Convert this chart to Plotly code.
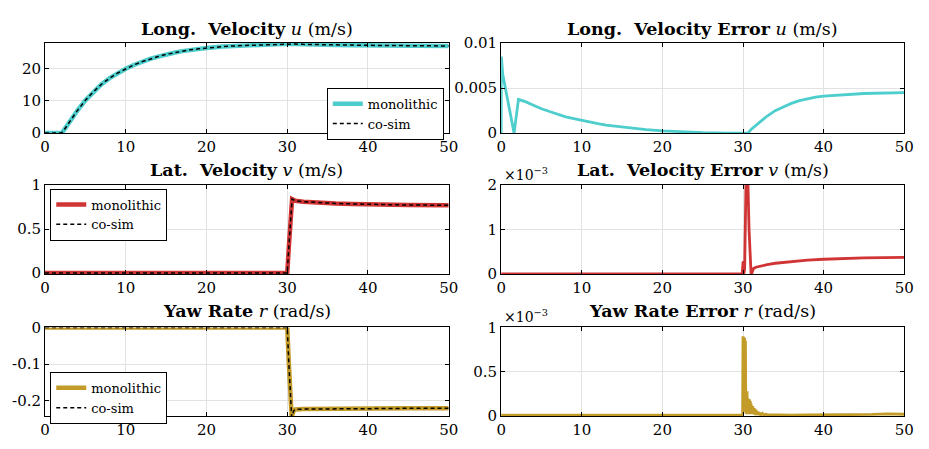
import plotly.graph_objects as go

# ---------------- data ----------------
t_u = [0, 1, 2, 2.2, 3, 4, 5, 6, 7, 8, 9, 10, 11, 12, 13, 14, 15, 16, 17, 18, 19, 20,
       22, 24, 26, 28, 30, 31, 32, 34, 36, 38, 40, 45, 50]
u_mono = [0, 0, 0, 0.4, 3.5, 7.0, 10.2, 12.9, 15.2, 17.1, 18.7, 20.0, 21.2, 22.2, 23.1,
          23.8, 24.5, 25.0, 25.5, 25.9, 26.2, 26.5, 26.9, 27.2, 27.4, 27.6, 27.8, 27.7,
          27.6, 27.5, 27.4, 27.35, 27.3, 27.2, 27.1]
u_cosim = list(u_mono)

t_v = [0, 10, 20, 29.9, 30.0, 30.2, 30.4, 30.6, 30.8, 31, 32, 33, 34, 36, 38, 40, 42, 45, 50]
v_mono = [0, 0, 0, 0, 0.0, 0.3, 0.65, 0.84, 0.83, 0.82, 0.81, 0.803, 0.797, 0.79, 0.785,
          0.78, 0.776, 0.772, 0.77]
v_cosim = list(v_mono)

t_r = [0, 10, 20, 29.9, 30.0, 30.2, 30.4, 30.55, 30.8, 31, 32, 35, 40, 45, 50]
r_mono = [0, 0, 0, 0, 0, -0.1, -0.2, -0.245, -0.228, -0.224, -0.223, -0.222, -0.222,
          -0.221, -0.221]
r_cosim = list(r_mono)

t_eu = [0, 0.02, 0.2, 1.6, 2.15, 3, 4, 5, 6, 7, 8, 9, 10, 11, 12, 13, 14, 15, 16, 17, 18,
        20, 22, 25, 28, 30, 30.6, 31, 31.5, 32, 32.5, 33, 33.5, 34, 35, 36, 37, 38, 39, 40,
        42, 45, 50]
err_u = [0, 0.0085, 0.0065, 0, 0.00375, 0.0035, 0.0031, 0.0027, 0.0024, 0.0021, 0.0018,
         0.0016, 0.0014, 0.00122, 0.00105, 0.0009, 0.00078, 0.00066, 0.00055, 0.00046,
         0.00038, 0.00025, 0.00015, 0.00006, 0.00001, 0, 0, 0.0004, 0.0008, 0.0012,
         0.0016, 0.0019, 0.0022, 0.0025, 0.0029, 0.0033, 0.0036, 0.0038, 0.004, 0.0041,
         0.0042, 0.0044, 0.0045]

# lateral velocity error, in units of 1e-3 m/s
t_ev = [0, 10, 20, 29.9, 30.0, 30.05, 30.1, 30.2, 30.4, 30.55, 30.75, 31.0, 31.1, 31.3,
        31.6, 32, 33, 34, 35, 36, 38, 40, 42, 45, 50]
err_v_e3 = [0, 0, 0, 0, 0.25, 0.28, 0.0, 0.1, 2.4, 2.5, 1.0, 0.0, 0.02, 0.12, 0.15, 0.17,
            0.21, 0.24, 0.26, 0.28, 0.31, 0.33, 0.345, 0.36, 0.37]

# yaw rate error, in units of 1e-3 rad/s
t_er = [0, 10, 20, 29.95, 30.0, 30.05, 30.1, 30.15, 30.2, 30.25, 30.3, 30.35, 30.4, 30.45,
        30.5, 30.55, 30.6, 30.65, 30.7, 30.75, 30.8, 30.85, 30.9, 30.95, 31.0, 31.1, 31.2,
        31.3, 31.4, 31.5, 31.6, 31.7, 31.8, 31.9, 32.0, 32.2, 32.4, 32.6, 32.8, 33, 34,
        36, 38, 40, 42, 44, 46, 48, 49, 50]
err_r_e3 = [0.01, 0.01, 0.01, 0.01, 0.9, 0.05, 0.89, 0.1, 0.88, 0.05, 0.85, 0.03, 0.27,
            0.02, 0.28, 0.04, 0.2, 0.02, 0.18, 0.03, 0.19, 0.02, 0.17, 0.03, 0.14, 0.02,
            0.11, 0.02, 0.09, 0.01, 0.07, 0.01, 0.05, 0.01, 0.04, 0.01, 0.03, 0.01, 0.02,
            0.015, 0.012, 0.01, 0.012, 0.012, 0.013, 0.015, 0.018, 0.025, 0.025, 0.02]

titles = [
    "<b>Long.&nbsp; Velocity</b> <i>u</i> (m/s)",
    "<b>Long.&nbsp; Velocity Error</b> <i>u</i> (m/s)",
    "<b>Lat.&nbsp; Velocity</b> <i>v</i> (m/s)",
    "<b>Lat.&nbsp; Velocity Error</b> <i>v</i> (m/s)",
    "<b>Yaw Rate</b> <i>r</i> (rad/s)",
    "<b>Yaw Rate Error</b> <i>r</i> (rad/s)",
]
x_ticks = [0, 10, 20, 30, 40, 50]

# ---------------- styling ----------------
W, H = 929, 449
FONT = "DejaVu Serif"
TEAL = "rgb(77,205,204)"
RED = "rgb(208,52,52)"
GOLD = "rgb(194,155,40)"

col_px = [(40.7, 451.0), (504.3, 914.0)]
row_px = [(35.5, 129.3), (183.3, 276.0), (331.7, 424.0)]

fig = go.Figure()

def xd(c):
    return [col_px[c][0] / W, col_px[c][1] / W]

def yd(r):
    return [1 - row_px[r][1] / H, 1 - row_px[r][0] / H]

def ax_names(r, c):
    n = r * 2 + c + 1
    return ("x" if n == 1 else f"x{n}"), ("y" if n == 1 else f"y{n}"), n

series_left = [
    (t_u, u_mono, u_cosim, TEAL, "legend"),
    (t_v, v_mono, v_cosim, RED, "legend2"),
    (t_r, r_mono, r_cosim, GOLD, "legend3"),
]
series_right = [
    (t_eu, err_u, TEAL),
    (t_ev, err_v_e3, RED),
    (t_er, err_r_e3, GOLD),
]

for r in range(3):
    t, mono, cos, col, lg = series_left[r]
    xa, ya, n = ax_names(r, 0)
    fig.add_trace(go.Scatter(x=t, y=mono, mode="lines", name="monolithic",
                             line=dict(color=col, width=4.5), xaxis=xa, yaxis=ya,
                             legend=lg))
    fig.add_trace(go.Scatter(x=t, y=cos, mode="lines", name="co-sim",
                             line=dict(color="black", width=1.5, dash="4px,3px"),
                             xaxis=xa, yaxis=ya, legend=lg))
    t2, e, col2 = series_right[r]
    xa2, ya2, n2 = ax_names(r, 1)
    fig.add_trace(go.Scatter(x=t2, y=e, mode="lines", showlegend=False,
                             line=dict(color=col2, width=2.8), xaxis=xa2, yaxis=ya2))

yspecs = {
    1: dict(range=[0, 28], tickvals=[0, 10, 20], ticktext=["0", "10", "20"]),
    2: dict(range=[0, 0.01], tickvals=[0, 0.005, 0.01], ticktext=["0", "0.005", "0.01"]),
    3: dict(range=[-0.01, 1], tickvals=[0, 0.5, 1], ticktext=["0", "0.5", "1"]),
    4: dict(range=[0, 2], tickvals=[0, 1, 2], ticktext=["0", "1", "2"]),
    5: dict(range=[-0.242, 0], tickvals=[-0.2, -0.1, 0], ticktext=["-0.2", "-0.1", "0"]),
    6: dict(range=[0, 1], tickvals=[0, 0.5, 1], ticktext=["0", "0.5", "1"]),
}

axis_common = dict(showline=True, linecolor="black", linewidth=1, mirror="ticks",
                   ticks="inside", ticklen=4, tickcolor="black", tickwidth=1,
                   showgrid=True, gridcolor="rgb(226,226,226)", gridwidth=1,
                   zeroline=False, tickfont=dict(family=FONT, size=15, color="black"))

layout = {}
for r in range(3):
    for c in range(2):
        xa, ya, n = ax_names(r, c)
        xkey = "xaxis" if n == 1 else f"xaxis{n}"
        ykey = "yaxis" if n == 1 else f"yaxis{n}"
        layout[xkey] = dict(domain=xd(c), anchor=ya, range=[0, 50], tickvals=x_ticks,
                            ticktext=[str(v) for v in x_ticks], **axis_common)
        layout[ykey] = dict(domain=yd(r), anchor=xa, **yspecs[n], **axis_common)

fig.update_layout(**layout)

annotations = []
title_y_px = [20.5, 168, 315]
for r in range(3):
    for c in range(2):
        annotations.append(dict(
            text=titles[r * 2 + c], xref="paper", yref="paper",
            x=(col_px[c][0] + col_px[c][1]) / 2 / W, y=1 - title_y_px[r] / H,
            xanchor="center", yanchor="middle", showarrow=False,
            font=dict(family=FONT, size=17.5, color="black")))
for r in (1, 2):
    annotations.append(dict(
        text="×10<sup>−3</sup>", xref="paper", yref="paper",
        x=505 / W, y=1 - row_px[r][0] / H, xanchor="left", yanchor="bottom",
        yshift=0, showarrow=False, font=dict(family=FONT, size=14, color="black")))

legend_common = dict(bgcolor="white", bordercolor="black", borderwidth=1,
                     font=dict(family=FONT, size=13, color="black"),
                     yanchor="top", itemwidth=30, tracegroupgap=0)

fig.update_layout(
    width=W, height=H,
    margin=dict(l=0, r=0, t=0, b=0),
    paper_bgcolor="white", plot_bgcolor="white",
    annotations=annotations,
    legend=dict(x=446 / W, y=1 - 82 / H, xanchor="right", **legend_common),
    legend2=dict(x=46 / W, y=1 - 187 / H, xanchor="left", **legend_common),
    legend3=dict(x=46 / W, y=1 - 378 / H, xanchor="left", **legend_common),
    font=dict(family=FONT, color="black"),
)

fig.write_html("out.html")
